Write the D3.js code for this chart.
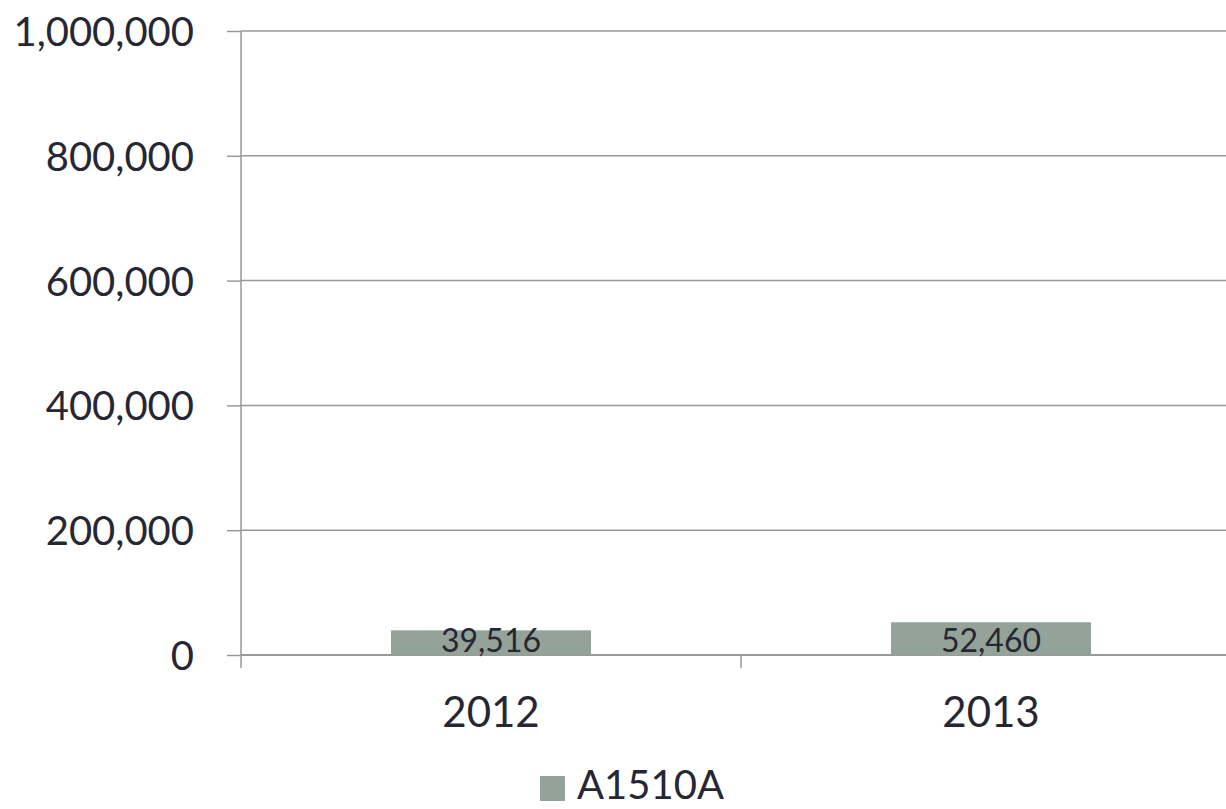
<!DOCTYPE html>
<html>
<head>
<meta charset="utf-8">
<script src="https://cdn.jsdelivr.net/npm/d3@7"></script>
<style>
  body { margin: 0; background: #fff; }
  text { font-family: "Lato", "Open Sans", sans-serif; fill: #272733; }
</style>
</head>
<body>
<div id="chart"></div>
<script>
let categories = ['2012', '2013'];
let values = [39516, 52460];
let yTicks = [0, 200000, 400000, 600000, 800000, 1000000];
let seriesName = 'A1510A';

let width = 1226,
    height = 809,
    plotLeft = 241,
    plotTop = 31,
    plotBottom = 655,
    barColor = '#93a399',
    lineColor = '#999';

let svg = d3.select('#chart').append('svg')
    .attr('width', width)
    .attr('height', height);

let y = d3.scaleLinear().domain([0, 1000000]).range([plotBottom, plotTop]);
// band spans are 500px; bars take 40% of that, plot runs past the right edge
let x = d3.scaleBand().domain(categories).range([plotLeft, plotLeft + 1000]).paddingInner(0.6).paddingOuter(0.3);
let step = x.step();

// gridlines
svg.append('g').selectAll('line')
    .data(yTicks.filter(function(d) { return d > 0; }))
    .enter().append('line')
    .attr('x1', plotLeft).attr('x2', width)
    .attr('y1', function(d) { return y(d); })
    .attr('y2', function(d) { return y(d); })
    .style('stroke', lineColor).style('stroke-width', 1.5);

// y axis
let yAxis = d3.axisLeft(y).tickValues(yTicks).tickSize(14).tickPadding(33)
    .tickFormat(d3.format(','));
let yg = svg.append('g').attr('transform', 'translate(' + plotLeft + ',0)').call(yAxis);
yg.select('.domain').remove();
yg.selectAll('line').style('stroke', lineColor).style('stroke-width', 1.5);
yg.selectAll('text').style('font-size', '40px').attr('dy', '0.36em').style('fill', '#272733');

svg.append('line')
    .attr('x1', plotLeft).attr('x2', plotLeft)
    .attr('y1', plotTop).attr('y2', plotBottom + 13)
    .style('stroke', lineColor).style('stroke-width', 1.5);

// x axis
svg.append('line')
    .attr('x1', plotLeft).attr('x2', width)
    .attr('y1', plotBottom).attr('y2', plotBottom)
    .style('stroke', lineColor).style('stroke-width', 2);

let boundaries = [plotLeft + step, plotLeft + 2 * step];
svg.append('g').selectAll('line')
    .data(boundaries)
    .enter().append('line')
    .attr('x1', function(d) { return d; }).attr('x2', function(d) { return d; })
    .attr('y1', plotBottom).attr('y2', plotBottom + 13)
    .style('stroke', lineColor).style('stroke-width', 1.5);

svg.append('g').selectAll('text')
    .data(categories)
    .enter().append('text')
    .attr('x', function(d) { return x(d) + x.bandwidth() / 2; })
    .attr('y', 727)
    .attr('text-anchor', 'middle')
    .style('font-size', '42px')
    .text(function(d) { return d; });

// bars
svg.append('g').selectAll('rect')
    .data(values)
    .enter().append('rect')
    .attr('x', function(d, i) { return x(categories[i]); })
    .attr('width', x.bandwidth())
    .attr('y', function(d) { return y(d); })
    .attr('height', function(d) { return y(0) - y(d); })
    .style('fill', barColor);

// data labels
svg.append('g').selectAll('text')
    .data(values)
    .enter().append('text')
    .attr('x', function(d, i) { return x(categories[i]) + x.bandwidth() / 2; })
    .attr('y', y(0) - 3)
    .attr('text-anchor', 'middle')
    .style('font-size', '32px')
    .text(function(d) { return d3.format(',')(d); });

// legend
let legend = svg.append('g');
legend.append('rect')
    .attr('x', 540).attr('y', 776)
    .attr('width', 25).attr('height', 25)
    .style('fill', barColor);
legend.append('text')
    .attr('x', 577).attr('y', 799)
    .style('font-size', '40px')
    .text(seriesName);
</script>
</body>
</html>
